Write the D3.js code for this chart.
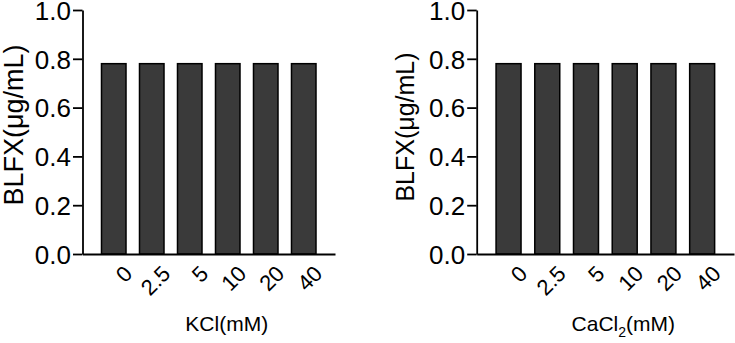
<!DOCTYPE html>
<html>
<head>
<meta charset="utf-8">
<script src="https://cdn.jsdelivr.net/npm/d3@7"></script>
<style>
  body { margin: 0; background: #fff; }
  svg { display: block; font-family: "Liberation Sans", Arial, Helvetica, sans-serif; }
</style>
</head>
<body>
<div id="chart"></div>
<script>
// data
const concentrations = ["0", "2.5", "5", "10", "20", "40"];
const kclValues = [0.78, 0.78, 0.78, 0.78, 0.78, 0.78];
const cacl2Values = [0.78, 0.78, 0.78, 0.78, 0.78, 0.78];
const yTicks = [0.0, 0.2, 0.4, 0.6, 0.8, 1.0];

const W = 735, H = 343;

const svg = d3.select('#chart').append('svg')
    .attr('width', W)
    .attr('height', H);

function drawPanel(cfg) {
  const x = d3.scaleBand()
      .domain(concentrations)
      .range([cfg.left, cfg.right])
      .paddingInner(0.355)
      .paddingOuter(0.5);

  const y = d3.scaleLinear()
      .domain([0, 1])
      .range([254, 10]);

  const g = svg.append('g');

  // bars
  g.selectAll('.bar')
      .data(cfg.values)
      .join('rect')
      .attr('class', 'bar')
      .attr('x', (d, i) => x(concentrations[i]))
      .attr('y', d => y(d))
      .attr('width', x.bandwidth())
      .attr('height', d => y(0) - y(d))
      .attr('fill', '#3a3a3a')
      .attr('stroke', '#000')
      .attr('stroke-width', 1.5);

  // y axis
  const yAxis = d3.axisLeft(y)
      .tickValues(yTicks)
      .tickFormat(d3.format('.1f'))
      .tickSize(9.5)
      .tickPadding(2)
      .tickSizeOuter(0);

  const yAxisG = g.append('g')
      .attr('transform', `translate(${cfg.left},0)`)
      .call(yAxis);
  yAxisG.select('.domain').attr('stroke-width', 1.8);
  yAxisG.selectAll('.tick line').attr('stroke-width', 1.8);
  yAxisG.selectAll('.tick text')
      .attr('fill', '#000')
      .style('font-size', '26px')
      .attr('dy', '0.36em');

  // x axis: line only, rotated labels
  const xAxisG = g.append('g')
      .attr('transform', `translate(0,${y(0)})`)
      .call(d3.axisBottom(x).tickSize(0).tickSizeOuter(0).tickFormat(''));
  xAxisG.select('.domain').attr('stroke-width', 1.8);

  g.selectAll('.xlabel')
      .data(concentrations)
      .join('text')
      .attr('class', 'xlabel')
      .attr('transform', d => `translate(${x(d) + x.bandwidth() / 2 + 20},${y(0) + 21}) rotate(-45)`)
      .attr('text-anchor', 'end')
      .style('font-size', '22px')
      .text(d => d);

  // axis titles
  g.append('text')
      .attr('transform', `translate(${cfg.left + cfg.yTitleDx},${cfg.yTitleY}) rotate(-90)`)
      .attr('text-anchor', 'middle')
      .style('font-size', cfg.yTitleSize + 'px')
      .text('BLFX(μg/mL)');

  const xTitle = g.append('text')
      .attr('x', (cfg.left + cfg.right) / 2 + 18)
      .attr('y', 331)
      .attr('text-anchor', 'middle')
      .style('font-size', '21px');
  cfg.xTitle(xTitle);
}

drawPanel({
  left: 82.5, right: 335,
  values: kclValues,
  yTitleDx: -60, yTitleY: 125, yTitleSize: 27,
  xTitle: t => t.text('KCl(mM)')
});

drawPanel({
  left: 476.7, right: 734,
  values: cacl2Values,
  yTitleDx: -63, yTitleY: 127, yTitleSize: 25,
  xTitle: t => {
    t.append('tspan').text('CaCl');
    t.append('tspan').attr('dy', 6).style('font-size', '14px').text('2');
    t.append('tspan').attr('dy', -6).text('(mM)');
  }
});
</script>
</body>
</html>
